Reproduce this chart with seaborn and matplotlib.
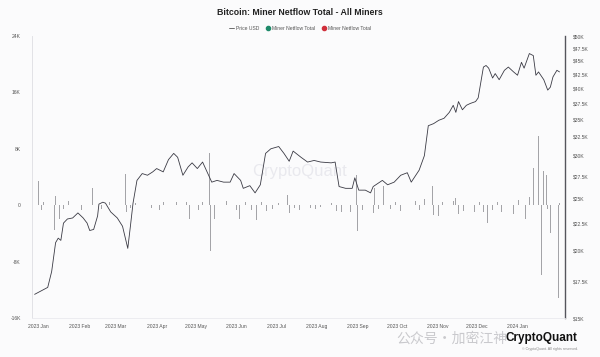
import pandas as pd
import matplotlib.pyplot as plt
import matplotlib.dates as mdates
from matplotlib.lines import Line2D
from matplotlib.ticker import FixedLocator, NullLocator
import seaborn as sns

sns.set_theme(style='white')
plt.rcParams['font.family'] = ['Liberation Sans', 'Noto Sans CJK SC', 'DejaVu Sans']

# BTC price (USD, thousands)
price_dates = ['2022-12-29', '2023-01-08', '2023-01-11', '2023-01-14', '2023-01-16', '2023-01-18',
               '2023-01-20', '2023-01-23', '2023-01-27', '2023-01-31', '2023-02-04', '2023-02-07',
               '2023-02-09', '2023-02-12', '2023-02-15', '2023-02-16', '2023-02-19', '2023-02-21',
               '2023-02-25', '2023-03-02', '2023-03-06', '2023-03-10', '2023-03-12', '2023-03-14',
               '2023-03-17', '2023-03-21', '2023-03-25', '2023-03-29', '2023-04-01', '2023-04-06',
               '2023-04-10', '2023-04-14', '2023-04-17', '2023-04-21', '2023-04-25', '2023-04-28',
               '2023-05-02', '2023-05-06', '2023-05-10', '2023-05-13', '2023-05-17', '2023-05-22',
               '2023-05-27', '2023-05-30', '2023-06-04', '2023-06-06', '2023-06-11', '2023-06-15',
               '2023-06-19', '2023-06-23', '2023-06-27', '2023-07-03', '2023-07-07', '2023-07-11',
               '2023-07-14', '2023-07-20', '2023-07-25', '2023-07-30', '2023-08-04', '2023-08-12',
               '2023-08-15', '2023-08-18', '2023-08-23', '2023-08-28', '2023-08-30', '2023-09-02',
               '2023-09-07', '2023-09-11', '2023-09-13', '2023-09-20', '2023-09-24', '2023-09-29',
               '2023-10-04', '2023-10-09', '2023-10-12', '2023-10-18', '2023-10-22', '2023-10-25',
               '2023-10-29', '2023-11-02', '2023-11-06', '2023-11-10', '2023-11-13', '2023-11-15',
               '2023-11-17', '2023-11-20', '2023-11-23', '2023-11-26', '2023-11-30', '2023-12-02',
               '2023-12-06', '2023-12-08', '2023-12-10', '2023-12-13', '2023-12-15', '2023-12-18',
               '2023-12-22', '2023-12-25', '2023-12-29', '2024-01-01', '2024-01-04', '2024-01-06',
               '2024-01-10', '2024-01-13', '2024-01-15', '2024-01-17', '2024-01-21', '2024-01-24',
               '2024-01-26', '2024-01-28', '2024-01-31', '2024-02-02']
price_k = [16.6, 17.1, 18.3, 20.7, 21.1, 20.9,
           22.5, 22.9, 23.0, 23.5, 23.0, 22.5,
           21.8, 21.9, 23.2, 24.4, 24.6, 24.5,
           23.6, 23.0, 22.2, 20.2, 22.2, 24.5,
           27.0, 27.8, 27.6, 28.0, 28.4, 28.0,
           29.5, 30.3, 29.8, 27.6, 28.6, 29.1,
           28.4, 29.2, 27.8, 26.8, 27.0, 26.8,
           26.8, 27.8, 27.0, 26.1, 26.4, 25.6,
           26.5, 30.3, 30.9, 31.2, 30.3, 29.3,
           30.6, 29.8, 29.2, 29.4, 29.2, 29.1,
           29.2, 26.3, 26.1, 26.1, 27.3, 25.9,
           25.9, 25.6, 26.3, 27.0, 26.5, 26.8,
           27.6, 27.9, 26.8, 28.2, 30.0, 34.1,
           34.4, 34.9, 35.2, 36.1, 37.2, 36.1,
           37.8, 36.5, 37.2, 37.5, 37.8, 38.4,
           43.8, 44.1, 43.6, 41.8, 42.6, 41.5,
           43.2, 43.8, 42.9, 42.3, 44.7, 43.6,
           46.4, 46.0, 42.3, 42.9, 41.5, 39.7,
           40.2, 42.0, 43.2, 42.9]

# Miner netflow total (BTC, thousands)
flow_dates = ['2023-01-01', '2023-01-03', '2023-01-05', '2023-01-09', '2023-01-13', '2023-01-14',
              '2023-01-15', '2023-01-17', '2023-01-20', '2023-01-24', '2023-01-28', '2023-02-03',
              '2023-02-07', '2023-02-11', '2023-02-13', '2023-02-18', '2023-02-24', '2023-03-01',
              '2023-03-08', '2023-03-09', '2023-03-12', '2023-03-16', '2023-03-20', '2023-03-28',
              '2023-04-03', '2023-04-06', '2023-04-12', '2023-04-16', '2023-04-21', '2023-04-24',
              '2023-04-26', '2023-05-03', '2023-05-06', '2023-05-11', '2023-05-12', '2023-05-14',
              '2023-05-15', '2023-05-17', '2023-05-20', '2023-05-24', '2023-05-30', '2023-06-01',
              '2023-06-03', '2023-06-08', '2023-06-12', '2023-06-16', '2023-06-20', '2023-06-24',
              '2023-06-28', '2023-07-03', '2023-07-10', '2023-07-11', '2023-07-15', '2023-07-19',
              '2023-07-23', '2023-07-27', '2023-07-31', '2023-08-04', '2023-08-08', '2023-08-12',
              '2023-08-16', '2023-08-20', '2023-08-24', '2023-08-27', '2023-08-31', '2023-09-01',
              '2023-09-05', '2023-09-09', '2023-09-13', '2023-09-14', '2023-09-17', '2023-09-21',
              '2023-09-22', '2023-09-26', '2023-09-30', '2023-10-04', '2023-10-08', '2023-10-11',
              '2023-10-15', '2023-10-18', '2023-10-22', '2023-10-28', '2023-10-29', '2023-11-02',
              '2023-11-05', '2023-11-09', '2023-11-13', '2023-11-15', '2023-11-17', '2023-11-21',
              '2023-11-25', '2023-11-29', '2023-12-03', '2023-12-06', '2023-12-09', '2023-12-13',
              '2023-12-17', '2023-12-20', '2023-12-24', '2023-12-27', '2023-12-29', '2024-01-02',
              '2024-01-07', '2024-01-10', '2024-01-13', '2024-01-15', '2024-01-17', '2024-01-19',
              '2024-01-21', '2024-01-23', '2024-01-24', '2024-01-26', '2024-01-28', '2024-01-31',
              '2024-02-01', '2024-02-02']
flow_k = [3.5, -0.7, 0.4, -0.5, -3.5, 1.3,
          -2.3, -2.0, -0.5, 0.6, -0.4, -0.6,
          0.4, 2.4, -1.9, -0.5, 0.5, -0.4,
          4.5, -1.0, -0.4, 0.3, 0.3, -0.4,
          -0.7, 0.4, -0.3, 0.4, -5.4, 0.4,
          -2.0, -0.6, 0.5, 7.4, -6.5, 1.3,
          -1.9, -1.5, -2.0, 0.6, 7.0, -0.6,
          -1.9, 0.4, -0.6, -2.1, 0.5, -0.8,
          -0.5, 0.3, 1.5, -1.1, -0.4, -0.6,
          -0.5, -0.4, -0.5, -0.3, -0.6, 0.3,
          -0.8, -1.0, 0.5, -1.0, 4.3, -3.7,
          -0.6, 0.7, -1.1, 2.4, -0.5, 2.8,
          -2.8, -0.5, 0.4, -0.8, 0.5, -0.6,
          0.6, -0.7, 0.9, 2.8, -1.4, -1.5,
          0.4, -0.8, 0.6, 1.0, -1.2, -0.8,
          0.4, -0.9, 0.5, -0.9, -2.5, -0.6,
          0.5, -0.9, -0.5, 1.5, -1.2, 0.7,
          -2.0, 1.2, 5.3, -6.1, 9.8, -9.9,
          4.8, 4.3, -0.5, -4.0, 0.3, 11.0,
          -13.2, 0.3]

left_ticks = [-16000, -8000, 0, 8000, 16000, 24000]
left_labels = ['-16K', '-8K', '0', '8K', '16K', '24K']
right_ticks = [15000, 17500, 20000, 22500, 25000, 27500, 30000, 32500, 35000,
               37500, 40000, 42500, 45000, 47500, 50000]
right_labels = ['$15K', '$17.5K', '$20K', '$22.5K', '$25K', '$27.5K', '$30K', '$32.5K', '$35K',
                '$37.5K', '$40K', '$42.5K', '$45K', '$47.5K', '$50K']

price = pd.DataFrame({'date': pd.to_datetime(price_dates), 'price': [v * 1000 for v in price_k]})
flow = pd.DataFrame({'date': pd.to_datetime(flow_dates), 'netflow': [v * 1000 for v in flow_k]})

bg = '#fbfbfc'
fig = plt.figure(figsize=(6, 3.57), dpi=100, facecolor=bg)
ax = fig.add_axes([0.0533, 0.109, 0.888, 0.79])
ax.set_facecolor(bg)

ax.bar(flow['date'], flow['netflow'], width=0.6, color='#a4a4a8', linewidth=0)
ax.set_ylim(-16000, 24000)
ax.yaxis.set_major_locator(FixedLocator(left_ticks))
ax.set_yticklabels(left_labels)
ax.set_xlim(pd.Timestamp('2022-12-27'), pd.Timestamp('2024-02-06'))
ax.xaxis.set_major_locator(mdates.MonthLocator())
ax.xaxis.set_major_formatter(mdates.DateFormatter('%Y %b'))
ax.set_xticks(pd.date_range('2023-01-01', '2024-01-01', freq='MS'))
ax.tick_params(axis='both', length=0, labelsize=3.6, colors='#555555', pad=4)
ax.tick_params(axis='y', pad=8)
ax.set_xlabel('')
ax.set_ylabel('')

ax2 = ax.twinx()
sns.lineplot(data=price, x='date', y='price', ax=ax2, color='#3a3a44', linewidth=0.6)
ax2.set_yscale('log')
ax2.set_ylim(15000, 50000)
ax2.yaxis.set_major_locator(FixedLocator(right_ticks))
ax2.yaxis.set_minor_locator(NullLocator())
ax2.set_yticklabels(right_labels)
ax2.tick_params(axis='y', length=0, labelsize=3.6, colors='#555555', pad=6)
ax2.set_ylabel('')
ax2.set_xlabel('')

for a in (ax, ax2):
    a.spines['top'].set_visible(False)
    a.spines['left'].set_color('#e2e2e6')
    a.spines['left'].set_linewidth(0.6)
    a.spines['bottom'].set_color('#ececf0')
    a.spines['bottom'].set_linewidth(0.6)
ax2.spines['right'].set_color('#55555c')
ax2.spines['right'].set_linewidth(1.0)
ax.spines['right'].set_visible(False)

# watermark in plot
ax.text(0.503, 0.52, 'CryptoQuant', transform=ax.transAxes, ha='center', va='center',
        fontsize=12, color='#e9e9ee', zorder=0)

fig.text(0.5, 0.978, 'Bitcoin: Miner Netflow Total - All Miners', ha='center', va='top',
         fontsize=6.3, fontweight='bold', color='#222222')

handles = [Line2D([0], [0], color='#555555', linewidth=0.6),
           Line2D([0], [0], marker='o', linestyle='', markersize=3, color='#1f8a6a'),
           Line2D([0], [0], marker='o', linestyle='', markersize=3, color='#d0303c')]
fig.legend(handles, ['Price USD', 'Miner Netflow Total', 'Miner Netflow Total'],
           loc='center', bbox_to_anchor=(0.5, 0.921), ncol=3, frameon=False,
           fontsize=3.6, handlelength=1.0, handletextpad=0.4, columnspacing=1.2,
           labelcolor='#555555')

# footer
fig.text(0.963, 0.052, 'CryptoQuant', ha='right', va='center', fontsize=8.5,
         fontweight='bold', color='#111111')
fig.text(0.963, 0.022, '© CryptoQuant. All rights reserved.', ha='right', va='center',
         fontsize=2.6, color='#888888')
fig.text(0.66, 0.052, '公众号·加密江神', ha='left', va='center', fontsize=10,
         color='#c4c4c8', alpha=0.9, family=['Noto Sans CJK SC', 'DejaVu Sans'])

fig.savefig('out.png', dpi=100, facecolor=bg)
